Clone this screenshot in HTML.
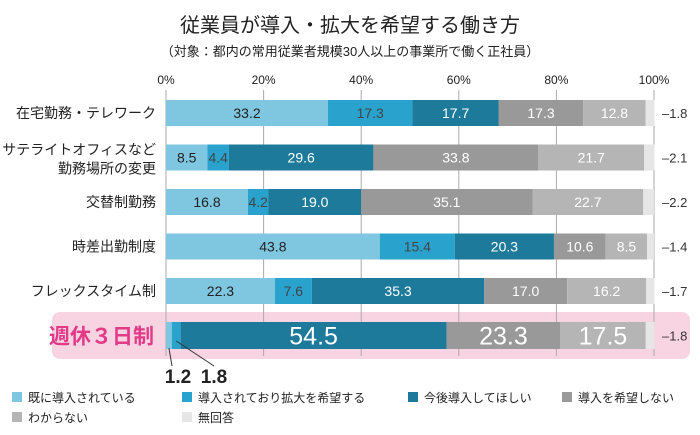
<!DOCTYPE html>
<html><head><meta charset="utf-8"><style>
body{margin:0;background:#fff;width:700px;height:430px;overflow:hidden;font-family:"Liberation Sans","Noto Sans CJK JP",sans-serif}
svg text{font-family:"Liberation Sans","Noto Sans CJK JP",sans-serif}
</style></head><body>
<svg id="chart" width="700" height="430">
<text x="350" y="32" text-anchor="middle" font-size="20" fill="#222">従業員が導入・拡大を希望する働き方</text>
<text x="350" y="56" text-anchor="middle" font-size="13" fill="#222">（対象：都内の常用従業者規模30人以上の事業所で働く正社員）</text>
<rect x="52" y="312" width="638" height="47" rx="8" fill="#f8d4e2"/>
<g id="grid"></g><g id="bars"></g><g id="labels"></g>
<g id="legend"></g>
</svg>
<script>
const categories=["在宅勤務・テレワーク","サテライトオフィスなど|勤務場所の変更","交替制勤務","時差出勤制度","フレックスタイム制","週休３日制"];
const seriesNames=["既に導入されている","導入されており拡大を希望する","今後導入してほしい","導入を希望しない","わからない","無回答"];
const s1=[33.2,8.5,16.8,43.8,22.3,1.2];
const s2=[17.3,4.4,4.2,15.4,7.6,1.8];
const s3=[17.7,29.6,19.0,20.3,35.3,54.5];
const s4=[17.3,33.8,35.1,10.6,17.0,23.3];
const s5=[12.8,21.7,22.7,8.5,16.2,17.5];
const s6=[1.8,2.1,2.2,1.4,1.7,1.8];
const ticks=[0,20,40,60,80,100];
const series=[s1,s2,s3,s4,s5,s6];
const colors=["#7fc6e0","#29a3cd","#1e7a9a","#999999","#b5b5b5","#e6e6e6"];
const txtCol=["#222","#444","#fff","#fff","#fff","#fff"];
const NS="http://www.w3.org/2000/svg";
const x0=166,x1=654;
const xs=v=>x0+(x1-x0)*v/100;
const yTop=i=>100+i*44.5;
function mk(tag,attrs,parent){const e=document.createElementNS(NS,tag);for(const k in attrs)e.setAttribute(k,attrs[k]);parent.appendChild(e);return e;}
const grid=document.getElementById('grid'),bars=document.getElementById('bars'),labels=document.getElementById('labels'),legend=document.getElementById('legend');
ticks.forEach(t=>{
 const l=mk('line',{x1:xs(t),x2:xs(t),y1:90,y2:356,stroke:'#aaa','stroke-width':1},grid);
 
 
 const tx=mk('text',{x:xs(t),y:84,'text-anchor':'middle','font-size':12,fill:'#222'},grid);
 tx.textContent=t+'%';
 
 
});
categories.forEach((c,i)=>{
 const last=i===5;
 const top=last?322:yTop(i), h=last?27:26, cy=top+h/2;
 let acc=0;
 series.forEach((s,k)=>{
  const v=s[i];
  const r=mk('rect',{x:xs(acc),y:top,width:xs(acc+v)-xs(acc),height:h,fill:colors[k]},bars);
  
  
  if(k<5 && !(last&&k<2)){
   const t=mk('text',{x:(xs(acc)+xs(acc+v))/2,y:cy+(last?9:5),'text-anchor':'middle','font-size':last?25:14,fill:txtCol[k]},labels);
   t.textContent=v.toFixed(1);
   
   
  }
  acc+=v;
 });
 const n=mk('text',{x:662,y:cy+5,'font-size':13,fill:'#333'},labels);
 n.textContent='–'+s6[i].toFixed(1);
 
 
 const parts=c.split('|');
 parts.forEach((p,j)=>{
  const ty=parts.length>1?cy-3+j*19:cy+5;
  const t=mk('text',{x:last?154:156,y:last?cy+8:ty,'text-anchor':'end','font-size':last?21:14,fill:last?'#e23a87':'#222','font-weight':last?'bold':'normal'},labels);
  t.textContent=p;
  
  
 });
 if(last){
  const p1=(xs(0)+xs(s1[i]))/2,p2=(xs(s1[i])+xs(s1[i]+s2[i]))/2;
  const l1=mk('line',{x1:p1,y1:348,x2:172,y2:366,stroke:'#333'},labels);
  
  
  const l2=mk('line',{x1:p2,y1:341,x2:214,y2:366,stroke:'#333'},labels);
  
  
  const a=mk('text',{x:178,y:383,'text-anchor':'middle','font-size':19,'font-weight':'bold',fill:'#222'},labels);
  a.textContent=s1[i].toFixed(1);
  
  
  const b=mk('text',{x:214,y:383,'text-anchor':'middle','font-size':19,'font-weight':'bold',fill:'#222'},labels);
  b.textContent=s2[i].toFixed(1);
  
  
 }
});
const lpos=[[12,398],[182,398],[408,398],[562,398],[12,418],[182,418]];
seriesNames.forEach((nm,k)=>{
 const r=mk('rect',{x:lpos[k][0],y:lpos[k][1]-6,width:10,height:10,fill:colors[k]},legend);
 
 
 const t=mk('text',{x:lpos[k][0]+16,y:lpos[k][1]+4,'font-size':12,fill:'#222'},legend);
 t.textContent=nm;
 
 
});
</script>
</body></html>
